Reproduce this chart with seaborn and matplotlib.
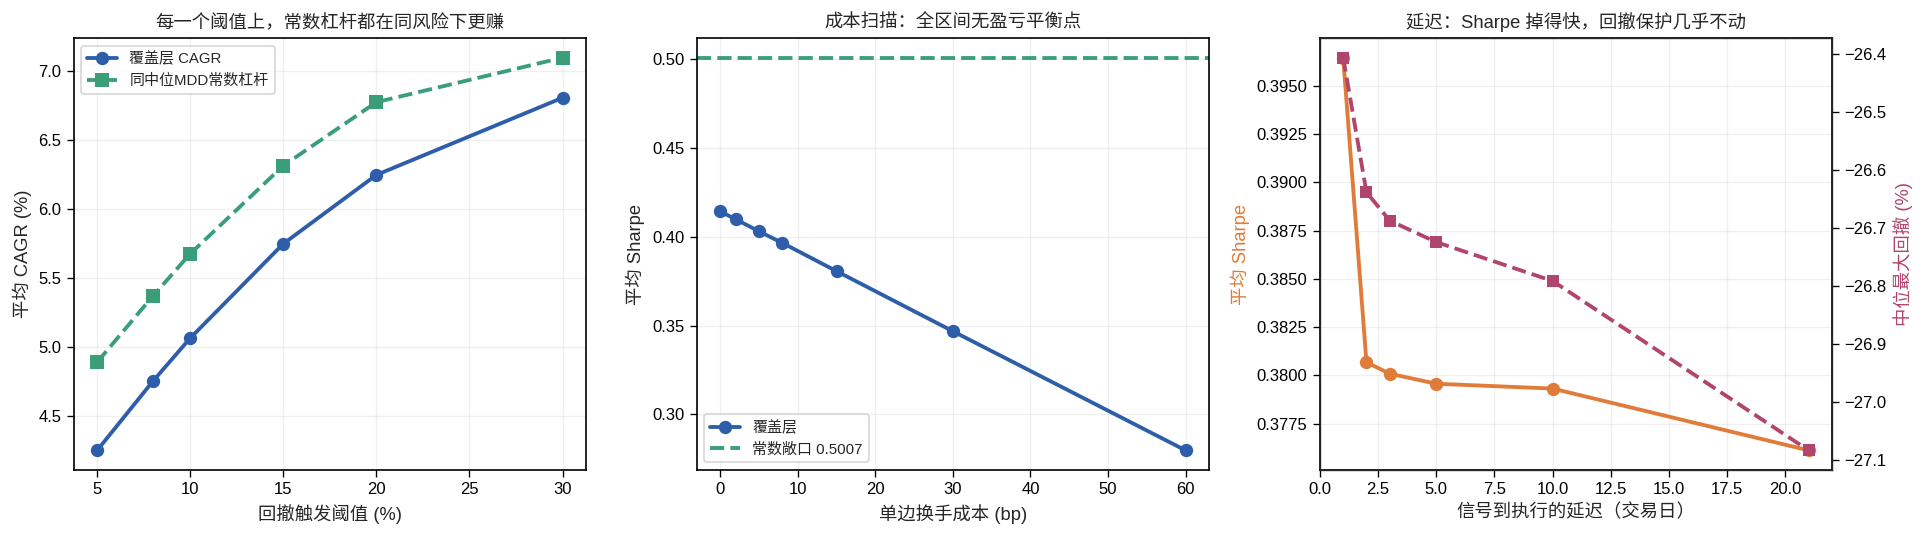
import numpy as np
import pandas as pd
import matplotlib
matplotlib.use('Agg')
import matplotlib.pyplot as plt
import seaborn as sns

sns.set_style('white')
plt.rcParams['font.family'] = ['Liberation Sans', 'Noto Sans CJK SC', 'DejaVu Sans']
plt.rcParams['axes.unicode_minus'] = True

BLUE = '#2E5EAA'
GREEN = '#3A9E78'
ORANGE = '#E07B39'
MAROON = '#B0466E'

# ── 面板 1：回撤阈值
thresholds = [5, 8, 10, 15, 20, 30]
overlay_cagr = [4.254, 4.755, 5.066, 5.748, 6.246, 6.804]
const_cagr = [4.892, 5.371, 5.676, 6.313, 6.772, 7.094]

# ── 面板 2：成本扫描
cost_bp = [0, 2, 5, 8, 15, 30, 60]
overlay_sharpe = [0.4142, 0.4098, 0.4030, 0.3965, 0.3806, 0.3468, 0.2798]
const_sharpe = 0.5007

# ── 面板 3：延迟
lag_days = [1, 2, 3, 5, 10, 21]
lag_sharpe = [0.39646, 0.38068, 0.38009, 0.37957, 0.37932, 0.37612]
lag_mdd = [-26.406, -26.638, -26.687, -26.724, -26.791, -27.083]

fig, axes = plt.subplots(1, 3, figsize=(16.04, 4.475), dpi=120)
fig.subplots_adjust(left=0.0384, right=0.9517, top=0.9292, bottom=0.1248, wspace=0.217)

TITLE_FS = 11
LABEL_FS = 11
TICK_FS = 10

for ax in axes:
    for s in ax.spines.values():
        s.set_color('black')
        s.set_linewidth(1.0)
    ax.tick_params(axis='both', which='both', direction='out', length=4, width=0.8,
                   colors='black', labelsize=TICK_FS, left=True, bottom=True)

# ── 面板 1
ax = axes[0]
sns.lineplot(x=thresholds, y=overlay_cagr, ax=ax, color=BLUE, marker='o', markersize=8,
             linewidth=2.3, markeredgewidth=0, label='覆盖层 CAGR')
sns.lineplot(x=thresholds, y=const_cagr, ax=ax, color=GREEN, marker='s', markersize=8,
             linewidth=2.3, markeredgewidth=0, linestyle='--', label='同中位MDD常数杠杆')
ax.set_title('每一个阈值上，常数杠杆都在同风险下更赚', fontsize=TITLE_FS)
ax.set_xlabel('回撤触发阈值 (%)', fontsize=LABEL_FS)
ax.set_ylabel('平均 CAGR (%)', fontsize=LABEL_FS)
ax.grid(True, alpha=0.3)
ax.legend(loc='upper left', fontsize=9, frameon=True)

# ── 面板 2
ax = axes[1]
sns.lineplot(x=cost_bp, y=overlay_sharpe, ax=ax, color=BLUE, marker='o', markersize=8,
             linewidth=2.3, markeredgewidth=0, label='覆盖层')
ax.axhline(const_sharpe, color=GREEN, linestyle='--', linewidth=2.3,
           label=f'常数敞口 {const_sharpe:.4f}')
ax.set_title('成本扫描：全区间无盈亏平衡点', fontsize=TITLE_FS)
ax.set_xlabel('单边换手成本 (bp)', fontsize=LABEL_FS)
ax.set_ylabel('平均 Sharpe', fontsize=LABEL_FS)
ax.grid(True, alpha=0.3)
ax.legend(loc='lower left', fontsize=9, frameon=True)

# ── 面板 3
ax = axes[2]
sns.lineplot(x=lag_days, y=lag_sharpe, ax=ax, color=ORANGE, marker='o', markersize=8,
             linewidth=2.3, markeredgewidth=0, legend=False)
ax.set_title('延迟：Sharpe 掉得快，回撤保护几乎不动', fontsize=TITLE_FS)
ax.set_xlabel('信号到执行的延迟（交易日）', fontsize=LABEL_FS)
ax.set_ylabel('平均 Sharpe', fontsize=LABEL_FS, color=ORANGE)
ax.grid(True, alpha=0.3)
ax2 = ax.twinx()
sns.lineplot(x=lag_days, y=lag_mdd, ax=ax2, color=MAROON, marker='s', markersize=7,
             linewidth=2.3, markeredgewidth=0, linestyle='--', legend=False)
ax2.set_ylabel('中位最大回撤 (%)', fontsize=LABEL_FS, color=MAROON)
ax2.tick_params(axis='y', direction='out', length=4, width=0.8, colors='black',
                labelsize=TICK_FS, right=True)

fig.savefig('out.png', dpi=120)
